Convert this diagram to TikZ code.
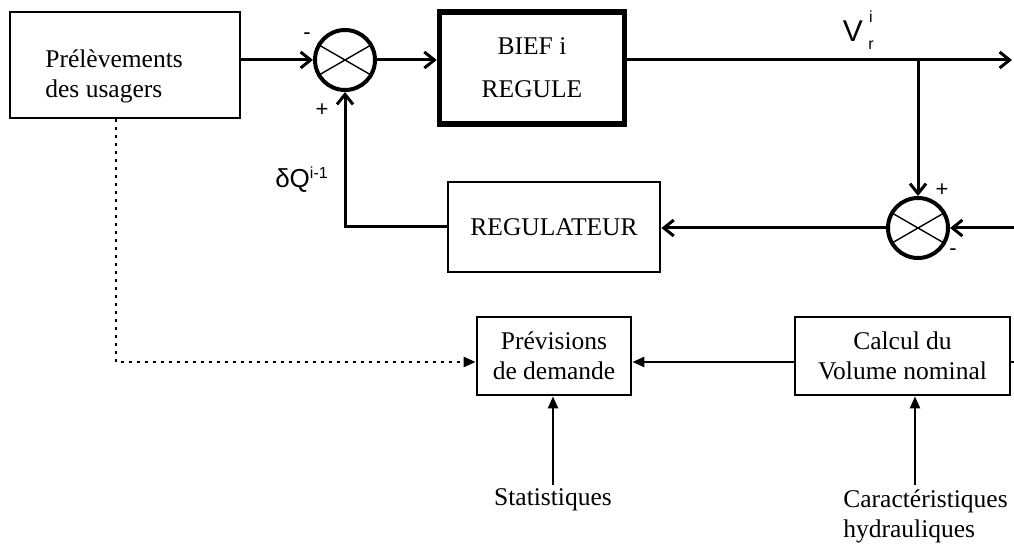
\documentclass[tikz,border=0pt]{standalone}
\usepackage{fontspec}
\setmainfont{Liberation Serif}
\newfontfamily\arialf{Liberation Sans}
\usetikzlibrary{arrows.meta}
\begin{document}
\begin{tikzpicture}[x=0.5pt,y=-0.5pt,
  every node/.style={font=\fontsize{12.75}{15}\selectfont, inner sep=0pt},
  blk/.style={draw, line width=1.4pt, inner sep=0pt, align=center},
  sumj/.style={draw, circle, line width=2pt, minimum size=30pt},
  conn/.style={line width=1.5pt, -{Straight Barb[length=5pt,width=8pt,line width=1.5pt]}},
  tri/.style={line width=1.2pt, -{Triangle[length=6pt,width=5pt]}},
  dots/.style={line width=1.3pt, dash pattern=on 1.3pt off 2.7pt, -{Triangle[length=6pt,width=5pt]}},
  sgn/.style={font=\arialf\fontsize{11}{12}\selectfont},
  lbl/.style={font=\arialf\fontsize{13}{14}\selectfont},
  idx/.style={font=\arialf\fontsize{8}{8}\selectfont},
]
\useasboundingbox (0,0) rectangle (1014,551);

% top row
\node[blk, minimum width=115pt, minimum height=53pt] (usr) at (125,65) {};
\node[anchor=west, align=left] (usrt) at (45,76) {Prélèvements\\des usagers};
\node[sumj] (s1) at (345,60) {};
\draw[line width=0.7pt] (s1.150) -- (s1.330) (s1.30) -- (s1.210);
\node[blk, line width=2.8pt, minimum width=92.5pt, minimum height=56pt] (bief) at (532,68) {BIEF i\\[6.5pt]REGULE};
\coordinate (out) at (1012,60);
\coordinate (br) at (918,60);
\node[font=\arialf\fontsize{15}{16}\selectfont] (vr) at (853,31) {V};
\node[idx] (vri) at (871,17) {i};
\node[idx] (vrr) at (871,45) {r};

% second row
\node[sumj] (s2) at (918,228) {};
\draw[line width=0.7pt] (s2.150) -- (s2.330) (s2.30) -- (s2.210);
\coordinate (in2) at (1014,228);
\node[blk, minimum width=106pt, minimum height=45pt] (reg) at (554,227) {REGULATEUR};
\node[lbl] (dq) at (302,180) {δQ\textsuperscript{\fontsize{8}{8}\selectfont i-1}};

% signs
\node[sgn] (m1) at (307,36) {-};
\node[sgn] (p1) at (322,110) {+};
\node[sgn] (p2) at (942,190) {+};
\node[sgn] (m2) at (953,252) {-};

% bottom row
\node[blk, minimum width=77pt, minimum height=39pt] (prev) at (554,356) {Prévisions\\de demande};
\node[blk, minimum width=107.5pt, minimum height=39pt] (calc) at (902.5,356) {Calcul du\\Volume nominal};
\node (stat) at (553,500) {Statistiques};
\node[anchor=north west, align=left] (car) at (843,489) {Caractéristiques\\hydrauliques};
\coordinate (cb) at (915,485);
\coordinate (sb) at (553,485);
\coordinate (dc) at (116,362);
\coordinate (cr) at (1014,362);

% connectors
\draw[conn] (usr.east |- s1) -- (s1.west);
\draw[conn] (s1.east) -- (s1.east -| bief.west);
\draw[line width=1.5pt] (s1.east -| bief.east) -- (br);
\draw[conn] (br) -- (out);
\draw[conn] (br) -- (s2.north);
\draw[conn] (in2) -- (s2.east);
\draw[conn] (s2.west) -- (s2.west -| reg.east);
\draw[conn] (reg.west) -| (s1.south);
\draw[tri] (dc -| calc.west) -- (dc -| prev.east);
\draw[line width=1.4pt] (dc -| calc.east) -- (cr);
\draw[dots] (usr.south -| dc) -- (dc) -- (dc -| prev.west);
\draw[tri] (sb) -- (sb |- prev.south);
\draw[tri] (cb) -- (cb |- calc.south);
\end{tikzpicture}
\end{document}
